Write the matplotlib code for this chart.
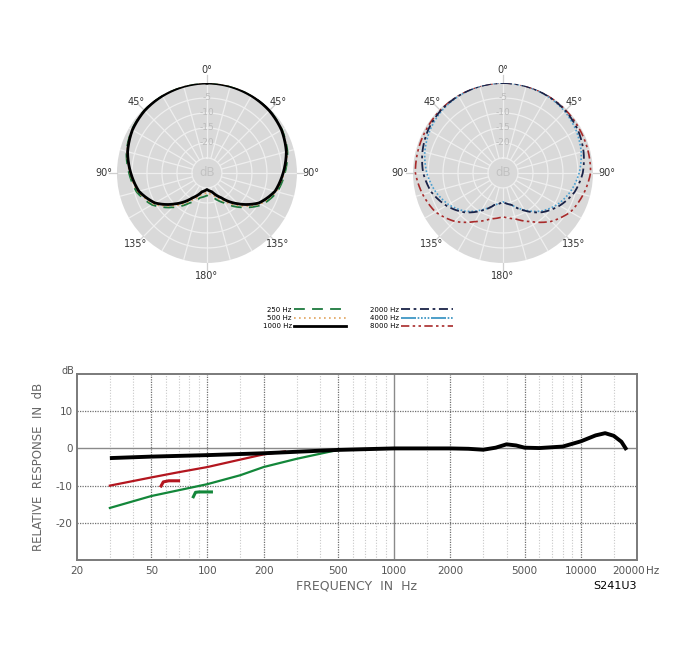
import numpy as np
import matplotlib.pyplot as plt
from matplotlib.lines import Line2D
from matplotlib.transforms import ScaledTranslation

# polar pattern data (half pattern, mirrored), dB relative to 0 deg
angles = [0, 15, 30, 45, 60, 75, 90, 105, 120, 135, 150, 165, 180]
db_250 = [0, -0.1, -0.3, -0.5, -1.1, -2.2, -4.0, -5.7, -8.8, -13.8, -18.5, -21.5, -22.5]
db_500 = [0, -0.1, -0.3, -0.6, -1.2, -2.4, -4.3, -6.1, -9.4, -14.6, -19.5, -22.5, -23.5]
db_1000 = [0, -0.1, -0.3, -0.6, -1.3, -2.6, -4.6, -6.5, -10.0, -15.5, -20.5, -23.5, -24.5]
db_2000 = [0, -0.1, -0.3, -0.6, -1.2, -2.2, -3.4, -5.3, -8.2, -11.5, -15.5, -19.0, -20.3]
db_4000 = [0, -0.1, -0.4, -0.9, -1.8, -3.0, -4.6, -6.6, -9.0, -12.0, -15.8, -19.0, -20.4]
db_8000 = [0, -0.1, -0.2, -0.4, -0.6, -0.7, -0.8, -2.3, -4.0, -7.2, -11.3, -14.2, -15.4]

ring_labels = ['-5', '-10', '-15', '-20']
ring_db = [-5, -10, -15, -20]
angle_labels = ['0°', '45°', '90°', '135°', '180°', '135°', '90°', '45°']
angle_pos = [0, 45, 90, 135, 180, 225, 270, 315]

# frequency response
f_main = [30, 50, 100, 200, 300, 500, 700, 1000, 2000, 2500, 3000, 3500, 4000, 4500,
          5000, 6000, 8000, 10000, 12000, 13500, 15000, 16500, 17600]
db_main = [-2.6, -2.2, -1.8, -1.3, -0.9, -0.4, -0.2, 0, 0, -0.1, -0.35, 0.2, 1.1, 0.8,
           0.2, 0.1, 0.5, 1.9, 3.5, 4.1, 3.4, 1.8, -0.4]
f_red = [30, 50, 70, 100, 150, 200, 260]
db_red = [-10, -7.8, -6.4, -5.0, -3.0, -1.6, -0.8]
f_green = [30, 50, 100, 150, 200, 300, 500]
db_green = [-16, -12.8, -9.6, -7.2, -5.0, -2.8, -0.4]
f_red_mark = [56.4, 58, 62, 70]
db_red_mark = [-10.1, -9.0, -8.7, -8.7]
f_green_mark = [84, 86.3, 90, 105]
db_green_mark = [-13, -11.8, -11.7, -11.7]

x_ticks = [20, 50, 100, 200, 500, 1000, 2000, 5000, 10000, 20000]
x_minor = [30, 40, 60, 70, 80, 90, 150, 300, 400, 600, 700, 800, 900, 1500,
           3000, 4000, 6000, 7000, 8000, 9000, 15000]
y_ticks = [-20, -10, 0, 10]

fig = plt.figure(figsize=(7, 6.54), dpi=100)


def mirror(vals):
    th = np.deg2rad(np.concatenate([angles, 360 - np.array(angles[::-1][1:])]))
    r = np.concatenate([vals, vals[::-1][1:]]) + 30
    return th, r


def polar_line(ax, vals, **kw):
    th, r = mirror(vals)
    line, = ax.plot(th, r, **kw)
    # let the polar transform bend each segment in theta
    line.get_path()._interpolation_steps = 20
    return line


def polar_base(left):
    ax = fig.add_axes([left, 0.5979, 0.2571, 0.2752], projection='polar')
    ax.set_theta_zero_location('N')
    ax.set_theta_direction(-1)
    ax.set_ylim(0, 30)
    ax.set_facecolor('#d9d9d9')
    ax.grid(False)
    ax.set_xticks([])
    ax.set_yticks([])
    ax.spines['polar'].set_visible(False)
    t = np.linspace(0, 2 * np.pi, 200)
    for rr in [5, 10, 15, 20, 25]:
        ax.plot(t, np.full_like(t, rr), color='#efefef', lw=0.9, zorder=1)
    for a in range(0, 360, 15):
        ax.plot([np.deg2rad(a)] * 2, [5, 30], color='#efefef', lw=0.9, zorder=1)
        if a % 45 == 0:
            ax.plot([np.deg2rad(a)] * 2, [30, 32.5], color='#cfcfcf', lw=0.9,
                    zorder=1, clip_on=False)
    for lab, d in zip(ring_labels, ring_db):
        ax.text(0, d + 30, lab, color='#bcbcbc', fontsize=6.5, ha='center', va='center', zorder=2)
    ax.text(0, 0, 'dB', color='#c2c2c2', fontsize=8.5, ha='center', va='center', zorder=2)
    for lab, a in zip(angle_labels, angle_pos):
        rr = 34.5 if a % 90 == 0 else 33.5
        ax.text(np.deg2rad(a), rr, lab, fontsize=7, color='#333333',
                ha='center', va='center', clip_on=False)
    return ax


axl = polar_base(0.1671)
l250 = polar_line(axl, db_250, color='#1d7a3e', lw=1.3, ls=(0, (6, 4)), zorder=3)
l500 = polar_line(axl, db_500, color='#e2a35c', lw=1.2, ls=(0, (1, 2)), zorder=3)
l1000 = polar_line(axl, db_1000, color='black', lw=2.0, zorder=4)

axr = polar_base(0.59)
l8000 = polar_line(axr, db_8000, color='#a82a2a', lw=1.2, ls=(0, (5, 2, 1.5, 2, 1.5, 2)), zorder=3)
l4000 = polar_line(axr, db_4000, color='#4a9fd0', lw=1.2, ls=(0, (1, 1.2)), zorder=3)
l2000 = polar_line(axr, db_2000, color='#1a2348', lw=1.3, ls=(0, (5, 2, 1.5, 2)), zorder=4)

h4000 = Line2D([], [], color='#2f8fc0', lw=1.2, ls=(0, (9, 1, 1, 1, 1, 1, 1, 1, 1, 1)))
fig.legend([l250, l500, l1000, l2000, h4000, l8000],
           ['250 Hz', '500 Hz', '1000 Hz', '2000 Hz', '4000 Hz', '8000 Hz'],
           ncol=2, loc='center', bbox_to_anchor=(358 / 700, 1 - 318 / 654),
           frameon=False, markerfirst=False, handlelength=7.5,
           handletextpad=0.3, columnspacing=3.5, labelspacing=0.35,
           prop={'size': 5})

# frequency response axes
ax = fig.add_axes([0.11, 0.1437, 0.8, 0.2844])
ax.set_xscale('log')
ax.set_xlim(20, 20000)
ax.set_ylim(-30, 20)
for f in x_minor:
    ax.axvline(f, color='#c8c8c8', lw=0.8, ls=(0, (1, 1.5)), zorder=1)
for f in x_ticks[1:-1]:
    if f == 1000:
        ax.axvline(f, color='#8a8a8a', lw=1.0, zorder=1)
    else:
        ax.axvline(f, color='#707070', lw=0.9, ls=(0, (1, 1)), zorder=1)
for d in y_ticks:
    if d == 0:
        ax.axhline(d, color='#8a8a8a', lw=1.0, zorder=1)
    else:
        ax.axhline(d, color='#707070', lw=0.9, ls=(0, (1, 1)), zorder=1)

ax.plot(f_green, db_green, color='#13873a', lw=1.6, zorder=3)
ax.plot(f_red, db_red, color='#b3161f', lw=1.6, zorder=3)
ax.plot(f_main, db_main, color='black', lw=2.8, zorder=4, solid_capstyle='butt')
ax.plot(f_red_mark, db_red_mark, color='#b3161f', lw=2.2, zorder=3)
ax.plot(f_green_mark, db_green_mark, color='#13873a', lw=2.2, zorder=3)

for s in ax.spines.values():
    s.set_color('#7a7a7a')
    s.set_linewidth(1.4)
ax.set_xticks(x_ticks)
ax.set_xticklabels([str(f) for f in x_ticks])
ax.minorticks_off()
ax.set_yticks(y_ticks)
ax.set_yticklabels([str(d) for d in y_ticks])
ax.tick_params(length=0, labelsize=7.5, labelcolor='#555555', pad=4)
ax.tick_params(axis='y', pad=3)
last = ax.get_xticklabels()[-1]
last.set_transform(last.get_transform() + ScaledTranslation(-8 / 100, 0, fig.dpi_scale_trans))
ax.text(1.0 + 9 / 560, -0.0, 'Hz', transform=ax.transAxes, fontsize=7.5, color='#555555',
        ha='left', va='top')
ax.texts[-1].set_transform(ax.transAxes + ScaledTranslation(0, -6 / 100, fig.dpi_scale_trans))
ax.text(-9 / 560, 1.015, 'dB', transform=ax.transAxes, fontsize=7, color='#555555',
        ha='center', va='center')
ax.set_xlabel('FREQUENCY  IN  Hz', fontsize=9, color='#666666', labelpad=3)
ax.set_ylabel('RELATIVE  RESPONSE  IN  dB', fontsize=8.5, color='#666666', labelpad=8)
ax.text(1.0, -0.14, 'S241U3', transform=ax.transAxes, fontsize=8, color='black',
        ha='right', va='center')

fig.savefig('out.png', dpi=100, facecolor='white')
